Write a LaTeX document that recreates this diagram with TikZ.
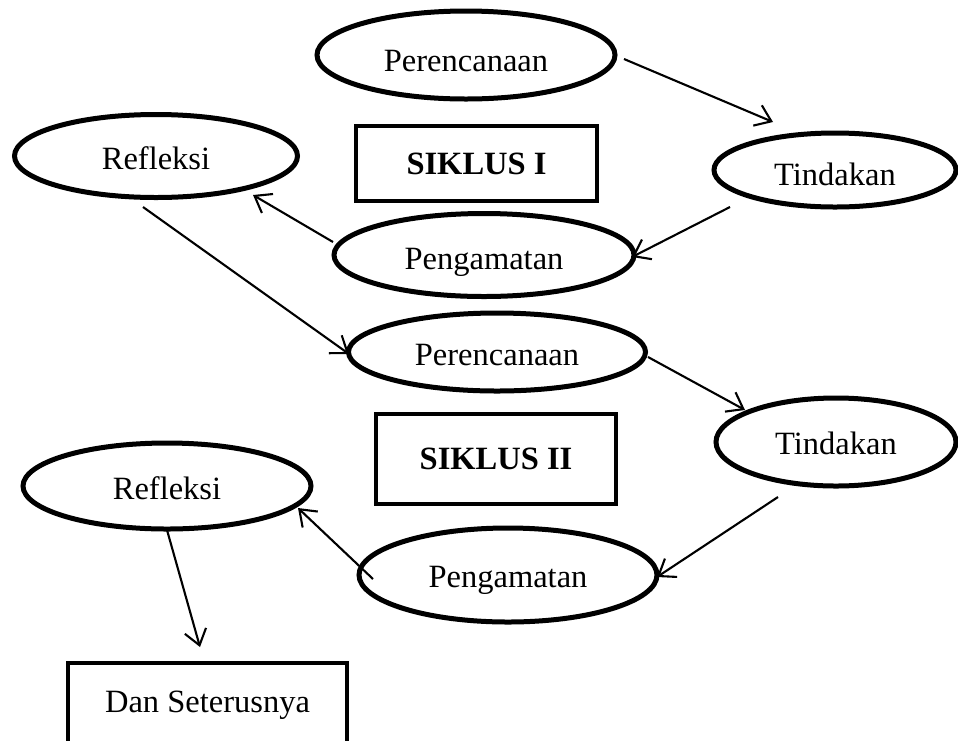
\documentclass[tikz,border=0pt]{standalone}
\usepackage{fontspec}
\setmainfont{Liberation Serif}
\usetikzlibrary{shapes.geometric,arrows.meta}
\newcommand{\lowered}[2]{\raisebox{-#1pt}[\height][\depth]{#2}}
\begin{document}
\begin{tikzpicture}[x=1pt,y=-1pt,
  ell/.style={ellipse,draw,line width=5pt,inner sep=0pt,font=\fontsize{32.5}{38}\selectfont},
  box/.style={rectangle,draw,line width=4.6pt,inner sep=0pt,font=\fontsize{32.5}{38}\selectfont},
  arr/.style={-{Straight Barb[length=15pt,width=22pt]},line width=2.1pt}]
\useasboundingbox (0,0) rectangle (958,740);
\clip (0,0) rectangle (958,740);
% cycle I
\node[ell,minimum width=298pt,minimum height=88pt] (p1) at (466,55) {\lowered{6}{Perencanaan}};
\node[ell,minimum width=283pt,minimum height=83pt] (r1) at (156,156) {\lowered{2}{Refleksi}};
\node[ell,minimum width=242pt,minimum height=74pt] (t1) at (835,170) {\lowered{4}{Tindakan}};
\node[ell,minimum width=300pt,minimum height=83pt] (g1) at (484,255) {\lowered{7}{Pengamatan}};
\node[box,minimum width=241pt,minimum height=75pt] (s1) at (476.5,163.5) {\textbf{SIKLUS I}};
% cycle II
\node[ell,minimum width=297pt,minimum height=78pt] (p2) at (497,352) {\lowered{3}{Perencanaan}};
\node[ell,minimum width=240pt,minimum height=88pt] (t2) at (836,442) {\lowered{1}{Tindakan}};
\node[ell,minimum width=288pt,minimum height=86pt] (r2) at (167,486) {\lowered{2}{Refleksi}};
\node[ell,minimum width=298pt,minimum height=94pt] (g2) at (508,575) {\lowered{5}{Pengamatan}};
\node[box,minimum width=240pt,minimum height=90pt] (s2) at (496,459) {\textbf{SIKLUS II}};
\node[box,minimum width=279pt,minimum height=84pt] (d) at (207.5,705) {Dan Seterusnya};
% connectors
\draw[arr] ([shift={(158,4)}]p1.center) -- ([shift={(-62,-48)}]t1.center);
\draw[arr] ([shift={(-105,37)}]t1.center) -- ([shift={(148,2)}]g1.center);
\draw[arr] ([shift={(-151,-13)}]g1.center) -- ([shift={(97,39)}]r1.center);
\draw[arr] ([shift={(-13,51)}]r1.center) -- ([shift={(-148,2)}]p2.center);
\draw[arr] ([shift={(151,5)}]p2.center) -- ([shift={(-91,-32)}]t2.center);
\draw[arr] ([shift={(-58,55)}]t2.center) -- ([shift={(149,2)}]g2.center);
\draw[arr] ([shift={(-135,4)}]g2.center) -- ([shift={(131,22)}]r2.center);
\draw[arr] ([shift={(0,44)}]r2.center) -- ([shift={(-7.5,-58)}]d.center);
\end{tikzpicture}
\end{document}
